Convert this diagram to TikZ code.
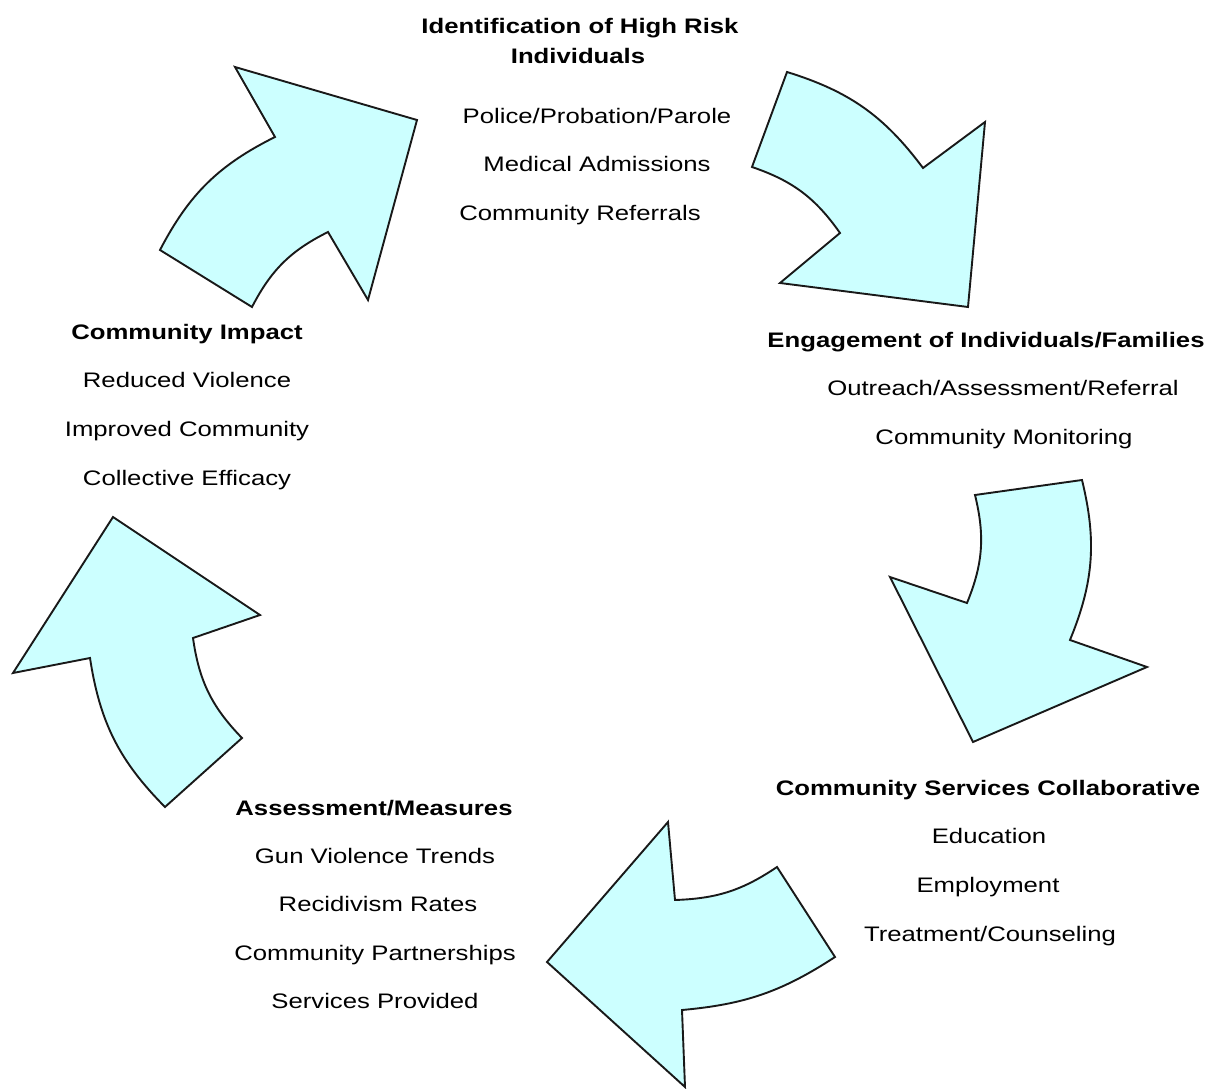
\documentclass[tikz,border=0pt]{standalone}
\usepackage{fontspec}
\newfontfamily\lab{Liberation Sans}[FakeStretch=1.224]
\definecolor{arrowfill}{RGB}{204,255,255}
\definecolor{inkline}{RGB}{25,25,25}
\tikzset{
  cyc/.style={draw=inkline, fill=arrowfill, line width=1.9pt, line join=miter},
  txt/.style={anchor=base, inner sep=0pt, font=\lab\fontsize{21}{25}\selectfont, text=black},
  hd/.style={txt, font=\lab\bfseries\fontsize{21}{25}\selectfont}
}
\begin{document}
\begin{tikzpicture}[x=1pt,y=-1pt]
\useasboundingbox (0,0) rectangle (1219,1089);
% arrows
\draw[cyc] (235,67) -- (417,120) -- (368,300) -- (328,232) to[bend right=18] (252,307) -- (160,250) to[bend left=18] (275,137) -- cycle;
\draw[cyc] (787,72) to[bend left=18] (923,168) -- (985,122) -- (968,307) -- (780,283) -- (840,233) to[bend right=18] (752,167) -- cycle;
\draw[cyc] (967,603) to[bend right=18] (975,495) -- (1082,480) to[bend left=18] (1070,640) -- (1147,667) -- (973,742) -- (890,577) -- cycle;
\draw[cyc] (675,900) to[bend right=16] (777,867) -- (835,957) to[bend left=14] (682,1010) -- (685,1087) -- (547,962) -- (668,822) -- cycle;
\draw[cyc] (193,638) to[bend right=18] (242,738) -- (165,807) to[bend left=18] (90,658) -- (13,673) -- (113,517) -- (260,615) -- cycle;
% top group
\node[hd] (t1) at (580,33.5) {Identification of High Risk};
\node[hd] (t2) at (578,63.5) {Individuals};
\node[txt] (t3) at (597,123.5) {Police/Probation/Parole};
\node[txt] (t4) at (597,171.5) {Medical Admissions};
\node[txt] (t5) at (580,220.5) {Community Referrals};
% right group
\node[hd] (r1) at (986,347) {Engagement of Individuals/Families};
\node[txt] (r2) at (1003,395) {Outreach/Assessment/Referral};
\node[txt] (r3) at (1004,444) {Community Monitoring};
% bottom right group
\node[hd] (s1) at (988,795) {Community Services Collaborative};
\node[txt] (s2) at (989,843) {Education};
\node[txt] (s3) at (988,892) {Employment};
\node[txt] (s4) at (990,941.5) {Treatment/Counseling};
% bottom left group
\node[hd] (a1) at (374,815) {Assessment/Measures};
\node[txt] (a2) at (375,863) {Gun Violence Trends};
\node[txt] (a3) at (378,911) {Recidivism Rates};
\node[txt] (a4) at (375,960) {Community Partnerships};
\node[txt] (a5) at (375,1008) {Services Provided};
% left group
\node[hd] (c1) at (187,339) {Community Impact};
\node[txt] (c2) at (187,387.5) {Reduced Violence};
\node[txt] (c3) at (187,436) {Improved Community};
\node[txt] (c4) at (187,485) {Collective Efficacy};
\end{tikzpicture}
\end{document}
